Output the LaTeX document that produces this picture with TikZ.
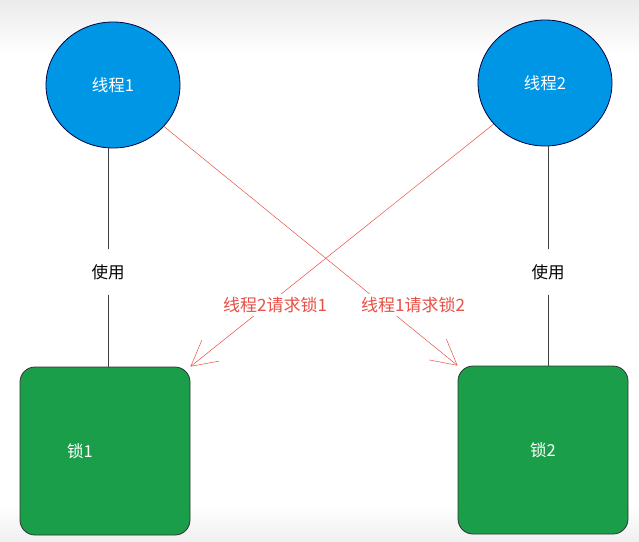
\documentclass[tikz,border=0pt]{standalone}
\usepackage{fontspec}
\newfontfamily\cjk{Noto Sans CJK SC}
\usetikzlibrary{arrows.meta,shapes.geometric}
\definecolor{thrblue}{RGB}{0,150,230}
\definecolor{lockgreen}{RGB}{26,158,74}
\definecolor{reqred}{RGB}{232,80,70}
\tikzset{
  thr node/.style={
    ellipse,draw=black!75!blue,fill=thrblue,line width=0.8pt,
    minimum width=134pt,minimum height=126pt,inner sep=0pt,text=white,
    font=\cjk\fontsize{16.5}{19}\selectfont
  },
  lock node/.style={
    rectangle,rounded corners=15pt,draw=black!80,fill=lockgreen,
    line width=0.8pt,minimum width=170pt,minimum height=168pt,
    inner sep=0pt,text=white,font=\cjk\fontsize{16.5}{19}\selectfont
  },
  use edge/.style={black!75,line width=0.6pt},
  use label/.style={fill=white,inner sep=0pt,minimum height=45pt,
    font=\cjk\fontsize{16.5}{19}\selectfont},
  req edge/.style={reqred,line width=0.5pt,
    -{Straight Barb[length=25pt,width=27pt]}},
  req label/.style={fill=white,text=reqred,inner sep=3pt,
    font=\cjk\fontsize{17}{20}\selectfont}
}

\begin{document}
\begin{tikzpicture}[x=1pt,y=-1pt]
  \useasboundingbox (0,0) rectangle (639,541);
  \shade[top color=black!8,bottom color=white] (0,0) rectangle (639,55);
  \shade[top color=white,bottom color=black!6] (0,505) rectangle (639,541);
  \node[thr node] (thr1) at (113,85) {线程1};
  \node[thr node] (thr2) at (545,83) {线程2};
  \node[lock node,label={[text=white,font=\cjk\fontsize{16.5}{19}\selectfont,
    xshift=-25pt]center:锁1}] (lock1) at (105,451) {};
  \node[lock node] (lock2) at (543,450) {锁2};
  \node[use label] (use1) at (108,272) {使用};
  \node[use label] (use2) at (548,272) {使用};
  \draw[use edge] (use1) -- (use1 |- thr1.south)
    (use1) -- (use1 |- lock1.north);
  \draw[use edge] (use2) -- (use2 |- thr2.south)
    (use2) -- (use2 |- lock2.north);
  \draw[req edge] (thr1) -- (lock2.north west);
  \draw[req edge] (thr2) -- (lock1.north east);
  \node[req label] (req1) at (413,305) {线程1请求锁2};
  \node[req label] (req2) at (275,305) {线程2请求锁1};
\end{tikzpicture}
\end{document}
